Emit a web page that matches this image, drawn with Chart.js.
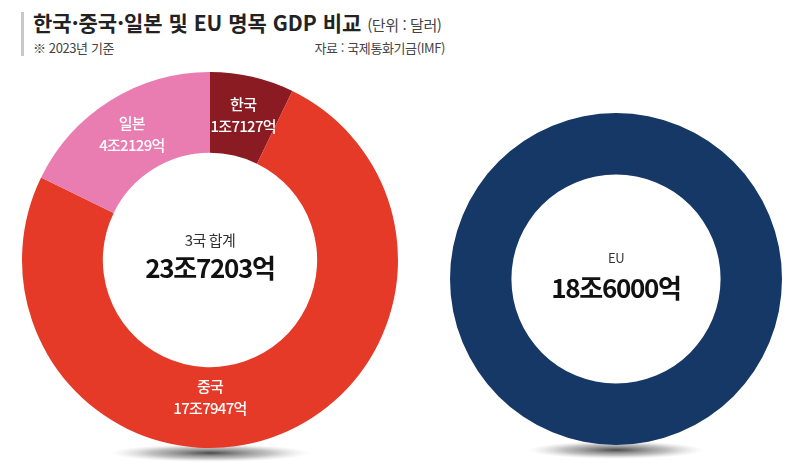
<!DOCTYPE html>
<html lang="ko">
<head>
<meta charset="utf-8">
<script src="https://cdn.jsdelivr.net/npm/chart.js@4.4.1/dist/chart.umd.min.js"></script>
<style>
	body { margin:0; background:#fff; width:793px; height:468px; overflow:hidden; position:relative; font-family:'Noto Sans CJK KR', sans-serif; }
	.bar { position:absolute; left:21px; top:12px; width:3px; height:44px; background:#c8c8c8; }
	.title { position:absolute; left:33px; top:10px; font-size:21px; line-height:24px; font-weight:700; color:#222; letter-spacing:0px; white-space:nowrap; }
	.title span { font-size:15px; font-weight:400; color:#444; letter-spacing:-0.4px; }
	.sub { position:absolute; top:40px; font-size:13px; line-height:15px; color:#444; letter-spacing:-0.4px; white-space:nowrap; }
	canvas { position:absolute; }
</style>
</head>
<body>
<div class="bar"></div>
<div class="title">한국·중국·일본 및 EU 명목 GDP 비교 <span>(단위 : 달러)</span></div>
<div class="sub" style="left:33px">※ 2023년 기준</div>
<div class="sub" style="right:348px">자료 : 국제통화기금(IMF)</div>
<canvas id="asia" width="400" height="410" style="left:10px;top:60px"></canvas>
<canvas id="eu" width="360" height="370" style="left:436px;top:99px"></canvas>
<script>
// 단위: 억 달러
var countries = ['한국', '중국', '일본'];
var gdp = [17127, 177947, 42129];
var colors = ['#8b1b22', '#e53a28', '#e97db1'];
var labelAngle = [null, 180, null]; // 중국 라벨은 아래쪽

var euName = 'EU';
var euGdp = [186000];
var euColor = '#163867';

function won(v) {
	return Math.floor(v / 10000) + '조' + (v % 10000) + '억';
}

var total = gdp.reduce(function(a, b) { return a + b; }, 0);

var shadow = {
	id: 'shadow',
	beforeDatasetsDraw: function(chart) {
		var arc = chart.getDatasetMeta(0).data[0];
		var ctx = chart.ctx;
		var r = arc.outerRadius;
		var rx = r * 0.53;
		ctx.save();
		ctx.translate(arc.x, arc.y + r + 5);
		ctx.scale(1, 9 / rx);
		var g = ctx.createRadialGradient(0, 0, 0, 0, 0, rx);
		g.addColorStop(0, 'rgba(30,30,30,0.8)');
		g.addColorStop(0.6, 'rgba(100,100,100,0.4)');
		g.addColorStop(1, 'rgba(180,180,180,0)');
		ctx.fillStyle = g;
		ctx.beginPath();
		ctx.arc(0, 0, rx, 0, Math.PI * 2);
		ctx.fill();
		ctx.restore();
	}
};

var centerText = {
	id: 'centerText',
	afterDatasetsDraw: function(chart, args, opts) {
		var arc = chart.getDatasetMeta(0).data[0];
		var ctx = chart.ctx;
		ctx.save();
		ctx.textAlign = 'center';
		ctx.textBaseline = 'middle';
		ctx.fillStyle = '#333';
		ctx.font = opts.smallSize + "px 'Noto Sans CJK KR'";
		ctx.letterSpacing = '-0.5px';
		ctx.fillText(opts.top, arc.x, arc.y + opts.topDy);
		ctx.fillStyle = '#111';
		ctx.font = "bold 26px 'Noto Sans CJK KR'";
		ctx.letterSpacing = '-1.3px';
		ctx.fillText(opts.main, arc.x, arc.y + opts.mainDy);
		ctx.restore();
	}
};

var sliceLabels = {
	id: 'sliceLabels',
	afterDatasetsDraw: function(chart) {
		var meta = chart.getDatasetMeta(0);
		var ctx = chart.ctx;
		ctx.save();
		ctx.textAlign = 'center';
		ctx.textBaseline = 'middle';
		ctx.fillStyle = '#fff';
		ctx.font = "500 15px 'Noto Sans CJK KR'";
		ctx.letterSpacing = '-0.7px';
		meta.data.forEach(function(arc, i) {
			var mid = (arc.startAngle + arc.endAngle) / 2;
			var rr = (arc.innerRadius + arc.outerRadius) / 2;
			if (labelAngle[i] !== null) {
				mid = (labelAngle[i] - 90) * Math.PI / 180;
				rr -= 9;
			}
			var x = arc.x + Math.cos(mid) * rr;
			var y = arc.y + Math.sin(mid) * rr;
			ctx.fillText(countries[i], x, y - 12);
			ctx.fillText(won(gdp[i]), x, y + 10);
		});
		ctx.restore();
	}
};

new Chart(document.getElementById('asia'), {
	type: 'doughnut',
	data: {
		labels: countries,
		datasets: [{ data: gdp, backgroundColor: colors, borderWidth: 0 }]
	},
	options: {
		responsive: false,
		animation: false,
		cutout: '57%',
		layout: { padding: { left: 12, right: 12, top: 12, bottom: 22 } },
		plugins: {
			legend: { display: false },
			tooltip: { enabled: false },
			centerText: { top: '3국 합계', main: won(total), smallSize: 15, topDy: -20, mainDy: 8 }
		}
	},
	plugins: [shadow, sliceLabels, centerText]
});

new Chart(document.getElementById('eu'), {
	type: 'doughnut',
	data: {
		labels: [euName],
		datasets: [{ data: euGdp, backgroundColor: [euColor], borderWidth: 0 }]
	},
	options: {
		responsive: false,
		animation: false,
		cutout: '63%',
		layout: { padding: { left: 14, right: 14, top: 14, bottom: 24 } },
		plugins: {
			legend: { display: false },
			tooltip: { enabled: false },
			centerText: { top: euName, main: won(euGdp[0]), smallSize: 13, topDy: -21, mainDy: 9 }
		}
	},
	plugins: [shadow, centerText]
});
</script>
</body>
</html>
